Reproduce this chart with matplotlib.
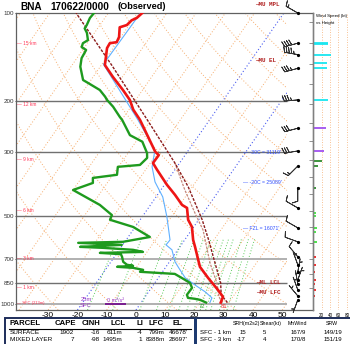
import numpy as np
import matplotlib
matplotlib.use("Agg")
import matplotlib.pyplot as plt
from matplotlib.patches import Rectangle

plt.rcParams['font.family'] = ['Liberation Sans', 'DejaVu Sans']

SKEW = 30.0
P_BOT, P_TOP = 1050.0, 100.0

# observed temperature (hPa, degC)
t_pres = [990, 946, 895, 814, 746, 637, 603, 544, 514, 468, 457, 422, 390, 346, 328, 308, 300,
          233, 215, 199, 184, 166, 151, 132, 127, 126, 121, 112, 110, 106, 104, 100]
t_degc = [27.2, 26.6, 23.2, 17.0, 11.6, 5.2, 2.9, -0.6, -3.6, -6.8, -9.2, -14.0, -19.1, -26.1, -29.1, -29.0, -31.0,
          -43.8, -48.5, -52.0, -56.7, -63.2, -68.8, -72.1, -72.3, -70.2, -70.6, -72.7, -70.8, -70.3, -69.1, -68.4]

# observed dewpoint
td_pres = [990, 969, 961, 954, 931, 881, 847, 827, 789, 776, 764, 752, 746, 740, 734, 717, 689, 675, 668, 663,
           652, 642, 637, 627, 617, 612, 589, 544, 514, 495, 457, 406, 384, 369, 360, 338, 333, 315, 303, 277,
           263, 233, 228, 210, 199, 194, 184, 174, 170, 153, 143, 134, 131, 127, 124, 117, 113, 110, 104, 99]
td_degc = [22.2, 19.5, 17.5, 14.9, 13.8, 13.9, 12.0, 9.6, 4.7, -7.7, -7.1, -11.0, -16.7, -11.5, -13.8, -15.8, -17.4, -18.4, -25.9, -11.4,
           -15.3, -26.0, -34.1, -20.3, -35.7, -20.6, -12.6, -20.7, -30.3, -30.8, -37.3, -50.0, -44.9, -46.1, -38.6, -40.2, -33.1, -32.3, -33.5, -37.8,
           -43.6, -49.9, -51.3, -56.1, -59.8, -61.2, -64.6, -70.3, -72.7, -76.8, -78.4, -78.8, -81.0, -81.5, -80.5, -82.6, -84.4, -84.5, -85.1, -84.8]

# wetbulb
tw_pres = [990, 954, 909, 861, 814, 764, 717, 652, 627, 603, 503, 429, 381, 338, 296, 233, 150, 100]
tw_degc = [23.5, 23.1, 19.3, 14.2, 9.2, 5.5, 1.9, -2.0, -5.2, -5.0, -11.5, -17.7, -23.9, -28.5, -31.5, -44.5, -69.5, -69.0]

# lifted parcels (virtual temperature)
mu_pres = [990, 931, 847, 723, 603, 514, 396, 328, 233, 152, 100]
mu_degc = [29.5, 25.5, 22.5, 15.8, 8.2, 1.2, -11.4, -21.6, -41.3, -66.1, -91.0]
ml_pres = [990, 946, 847, 723, 557, 495, 406, 328]
ml_degc = [27.8, 25.2, 21.2, 14.1, 3.9, -2.1, -11.8, -21.6]

# wind barbs
barb_pres = [100, 127, 139, 155, 199, 249, 298, 336, 399, 468, 548, 612, 689, 734, 777, 827, 854, 895, 939, 969]
barb_dir = [300, 255, 280, 255, 265, 255, 260, 225, 180, 300, 300, 290, 320, 340, 10, 20, 350, 340, 320, 200]
barb_kt = [15, 40, 45, 35, 35, 30, 28, 15, 10, 10, 10, 10, 10, 5, 5, 5, 7, 7, 5, 5]

# wind speed vs height panel
ws_pres = [127, 128, 139, 149, 155, 199, 249, 298, 323, 336, 399, 487, 498, 548, 566, 612,
           689, 734, 776, 827, 854, 895, 939, 969]
ws_kt = [36, 36, 42, 34, 34, 35, 30, 27, 20, 12, 8, 8, 8, 10, 8, 10, 7, 6, 5, 7, 5, 6, 4, 3]

# heights (km AGL) as pressure
km_pres = [881, 789, 700, 617, 544, 479, 419, 366, 320, 275, 239, 206, 175, 150, 127, 107]
km_labels = {881: '1 km', 700: '3 km', 479: '6 km', 320: '9 km', 206: '12 km', 127: '15 km'}

isobars = [200, 300, 500, 700, 850, 1000]
p_ticks = [100, 200, 300, 500, 700, 850, 1000]
t_ticks = [-30, -20, -10, 0, 10, 20, 30, 40, 50]
mix_ratios = [1, 2, 4, 6, 8, 10, 12, 14, 16, 18, 20, 24, 28, 32]

parcel_cols = ['PARCEL', 'CAPE', 'CINH', 'LCL', 'LI', 'LFC', 'EL']
parcel_rows = [['SURFACE', '1902', '-16', '611m', '-4', '799m', "46678'"],
               ['MIXED LAYER', '7', '-98', '1495m', '1', '8388m', "28697'"]]
kin_cols = ['SRH(m2s2)', 'Shear(kt)', 'MnWind', 'SRW']
kin_rows = [['SFC - 1 km', '15', '5', '167/9', '149/19'],
            ['SFC - 3 km', '-17', '4', '170/8', '151/19']]


def skx(t, p):
    return np.asarray(t, float) + SKEW * np.log(P_BOT / np.asarray(p, float))


W, H = 350, 344
fig = plt.figure(figsize=(W / 100, H / 100), dpi=100)


def fx(px):
    return px / W


def fy(py):
    return 1 - py / H


ax = fig.add_axes([fx(16), fy(310), 297 / W, 297 / H])
ax.set_xlim(-41.0, 60.5)
ax.set_ylim(np.log(P_BOT), np.log(P_TOP))
X_RIGHT = 51.6  # right edge of the thermodynamic area
clip = Rectangle((0, 0), 271 / 297, 1, transform=ax.transAxes)

pp = np.geomspace(P_BOT, P_TOP, 80)
lp = np.log(pp)
orange = '#f6ad6e'

# isotherms
for t0 in range(-130, 60, 10):
    if t0 in (-20, 0):
        continue
    ln, = ax.plot(skx(t0, pp), lp, color=orange, lw=0.7, ls=(0, (1, 2)))
    ln.set_clip_path(clip)
for t0 in (-20, 0):
    ln, = ax.plot(skx(t0, pp), lp, color='#4a5cf0', lw=0.8, ls=(0, (1, 2)))
    ln.set_clip_path(clip)

# dry adiabats
for th in range(-50, 250, 20):
    tk = (th + 273.15) * (pp / 1000.0) ** 0.2857 - 273.15
    ln, = ax.plot(skx(tk, pp), lp, color=orange, lw=0.7, ls=(0, (1, 2)))
    ln.set_clip_path(clip)

# mixing ratio lines
pm = np.geomspace(P_BOT, 600, 30)
for w in mix_ratios:
    e = w * pm / (622.0 + w)
    le = np.log(e / 6.112)
    td = 243.5 * le / (17.67 - le)
    ln, = ax.plot(skx(td, pm), np.log(pm), color='#5ccc5c', lw=0.7, ls=(0, (1, 2)))
    ln.set_clip_path(clip)

# isobars
for p in isobars:
    light = p in (700, 1000)
    ax.hlines(np.log(p), -41.0, X_RIGHT, colors='#b0b0b0' if light else '#707070',
              lw=1.4 if light else 1.0, zorder=2)

# parcel traces
ax.plot(skx(ml_degc, ml_pres), np.log(ml_pres), color='#c4867a', lw=0.9, ls=(0, (2, 1)), zorder=3)
ax.plot(skx(mu_degc, mu_pres), np.log(mu_pres), color='#8c1c1c', lw=1.0, ls=(0, (2, 1)), zorder=3)

# sounding
ax.plot(skx(tw_degc, tw_pres), np.log(tw_pres), color='#5fb0ff', lw=0.8, zorder=4)
ax.plot(skx(td_degc, td_pres), np.log(td_pres), color='#1e9a1e', lw=1.7, zorder=5)
ax.plot(skx(t_degc, t_pres), np.log(t_pres), color='#ee1515', lw=1.9, zorder=5)

# height ticks next to the wind column
ax.hlines(np.log(km_pres), 59.2, 60.5, colors='#808080', lw=0.6)

# wind barbs
bd = np.radians(barb_dir)
bu = -np.array(barb_kt) * np.sin(bd)
bv = -np.array(barb_kt) * np.cos(bd)
bx = np.full(len(barb_pres), 55.3)
ax.barbs(bx, np.log(barb_pres), bu, bv, length=4.4, linewidth=0.6, color='#333333',
         sizes=dict(emptybarb=0.0, spacing=0.18, height=0.4), clip_on=False, zorder=6)
ax.plot(bx, np.log(barb_pres), 'o', ms=1.3, color='k', clip_on=False, zorder=7)

# axes styling
for s in ax.spines.values():
    s.set_color('#606060')
    s.set_linewidth(0.9)
ax.set_yticks(np.log(p_ticks))
ax.set_yticklabels([str(p) for p in p_ticks])
ax.set_xticks(t_ticks)
ax.set_xticklabels([str(t) for t in t_ticks])
ax.tick_params(axis='y', length=1.0, width=0.6, pad=0.4, labelsize=4.5, colors='#333333')
ax.tick_params(axis='x', length=0, pad=1.5, labelsize=6)

# height labels
for p, lab in km_labels.items():
    ax.text(-40.6, np.log(p), '\u2014 ' + lab, color='#ff3355', fontsize=3.4, va='center')
ax.text(-40.6, np.log(990), '\u2014 SFC (213m)', color='#ff3355', fontsize=3.0, va='center')

# wind speed panel
axw = fig.add_axes([fx(313), fy(310), 42.5 / W, 297 / H])
axw.set_xlim(0, 100)
axw.set_ylim(np.log(P_BOT), np.log(P_TOP))
axw.patch.set_alpha(0)
for k in ('top', 'right', 'bottom'):
    axw.spines[k].set_visible(False)
axw.spines['left'].set_color('#808080')
axw.spines['left'].set_linewidth(1.0)
axw.set_yticks([])
axw.set_xticks([20, 40, 60, 80])
axw.tick_params(axis='x', length=0, pad=2.5, labelsize=3.3)
axw.vlines([20, 40, 60, 80], np.log(P_BOT), np.log(P_TOP), colors=orange, lw=0.6, ls=(0, (1, 2)))
for p, s in zip(ws_pres, ws_kt):
    if p < 240:
        c = '#19e6f0'
    elif p < 310:
        c = '#a050f0'
    elif p < 420:
        c = '#2e8b2e'
    elif p < 650:
        c = '#40e040'
    else:
        c = '#ee2020'
    axw.hlines(np.log(p), 0, s, colors=c, lw=1.3)
fig.text(fx(316), fy(16), 'Wind Speed (kt)', fontsize=3.2, va='center')
fig.text(fx(316), fy(23), 'vs Height', fontsize=3.2, va='center')

# title
fig.text(fx(20), fy(6.5), 'BNA', fontsize=7.2, weight='bold', va='center')
fig.text(fx(50), fy(6.5), '170622/0000', fontsize=7.2, weight='bold', va='center')
fig.text(fx(117), fy(6.5), '(Observed)', fontsize=6.6, weight='bold', va='center')

# level annotations
mono = dict(family='Liberation Mono', weight='bold', fontsize=4.2, color='#b02020', va='center')
fig.text(fx(255), fy(5), '\u2014MU MPL', **mono)
fig.text(fx(255), fy(60), '\u2014MU EL', **mono)
fig.text(fx(256), fy(282), '\u2014ML LCL', **mono)
fig.text(fx(256), fy(292), '\u2014MU LFC', **mono)
blue = dict(fontsize=3.7, color='#3050ff', va='center')
fig.text(fx(243), fy(152), "\u2014 -30C = 31119'", **blue)
fig.text(fx(243), fy(182), "\u2014 -20C = 25089'", **blue)
fig.text(fx(243), fy(228), "\u2014 FZL = 16071'", **blue)

purple = '#9a3cc8'
fig.text(fx(86), fy(299.5), '25m', fontsize=4.2, color=purple, ha='center', va='center')
fig.text(fx(86), fy(305.5), 'SFC', fontsize=4.2, color=purple, ha='center', va='center')
fig.text(fx(116), fy(300), '0 m\u00b2/s\u00b2', fontsize=4.0, color=purple, ha='center', va='center')
fig.add_artist(Rectangle((fx(105), fy(305)), 21 / W, 1.6 / H, transform=fig.transFigure,
                         color='#7a2090', lw=0))
fig.text(fx(202), fy(307), '72', fontsize=4.2, color='#2aa02a', ha='center', va='center')
fig.text(fx(224), fy(307), '81', fontsize=4.2, color='#ee3030', ha='center', va='center')

# bottom tables
navy = '#1d2d5a'
fig.add_artist(Rectangle((fx(5), fy(346)), 348 / W, 28 / H, transform=fig.transFigure,
                         fill=False, ec=navy, lw=1.4))
fig.add_artist(Rectangle((fx(194), fy(346)), 3.2 / W, 28 / H, transform=fig.transFigure,
                         color='#1d3a70', lw=0))
fig.add_artist(plt.Line2D([fx(9), fx(191)], [fy(328.5), fy(328.5)], transform=fig.transFigure,
                          color='k', lw=0.8))

hdr_x = [10, 65, 91, 118, 140, 156, 177]
for x, lab, in zip(hdr_x, parcel_cols):
    fig.text(fx(x), fy(323.5), lab, fontsize=5.6, weight='bold',
             ha='left' if x == 10 else 'center', va='center')
val_x = [10, 74, 100, 122, 142, 165, 188]
for r, (yy, row) in enumerate(zip([333, 339.5], parcel_rows)):
    for x, v in zip(val_x, row):
        fig.text(fx(x), fy(yy), v, fontsize=4.6, ha='left' if x == 10 else 'right', va='center')

kin_hx = [246, 271, 297, 332]
for x, lab in zip(kin_hx, kin_cols):
    fig.text(fx(x), fy(323.5), lab, fontsize=3.8, ha='center', va='center')
kin_vx = [200, 246, 266, 298, 333]
for yy, row in zip([333, 339.5], kin_rows):
    for i, (x, v) in enumerate(zip(kin_vx, row)):
        fig.text(fx(x), fy(yy), v, fontsize=4.4,
                 ha='left' if i == 0 else ('right' if i < 3 else 'center'), va='center')

fig.savefig('out.png', dpi=100)
